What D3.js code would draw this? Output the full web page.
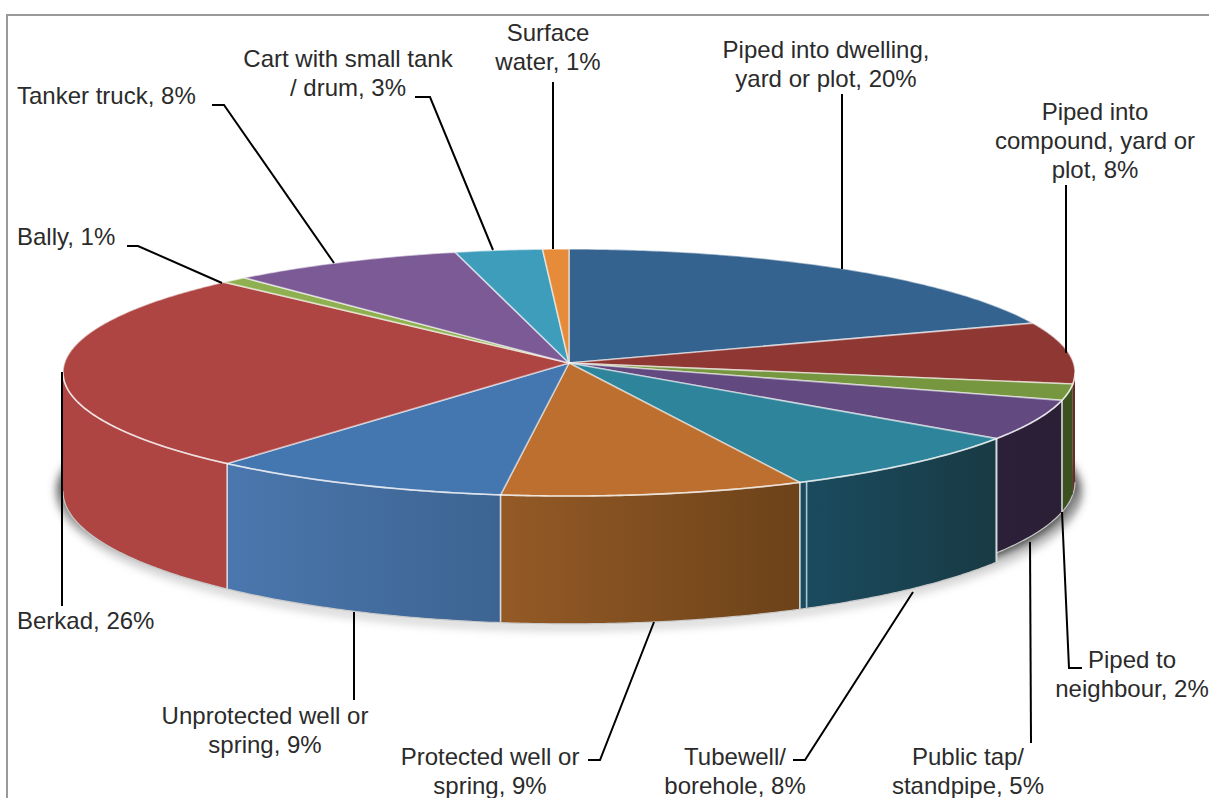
<!DOCTYPE html>
<html><head><meta charset="utf-8">
<script src="https://cdnjs.cloudflare.com/ajax/libs/d3/7.8.5/d3.min.js"></script>
<style>html,body{margin:0;padding:0;background:#fff;overflow:hidden}svg{display:block}text{font-family:"Liberation Sans",Arial,sans-serif;font-size:24px;fill:#2b2b2b}</style>
</head><body><svg id="c" width="1209" height="798"></svg>
<script>
const categories=["Piped into dwelling, yard or plot","Piped into compound, yard or plot","Piped to neighbour","Public tap/standpipe","Tubewell/borehole","Protected well or spring","Unprotected well or spring","Berkad","Bally","Tanker truck","Cart with small tank / drum","Surface water"];
const shares=[19.6,8.1,2.1,5.2,8,9,9,26.2,0.9,8,3,0.9];
const topColors=["#35638f","#8f3733","#76963f","#624a80","#2e849b","#bc6f2e","#4476b0","#ae4543","#8fb050","#7b5a96","#3f9dbc","#e58b3a"];
const wallStart=["#35638f","#6e2a27","#3d5020","#2c1f38","#1b4b60","#945a26","#4a77ae","#ae4543","#6d8a3a","#5c4370","#2e7a92","#b06a2a"];
const wallEnd=["#35638f","#6e2a27","#3d5020","#2b1f36","#183a44","#6c4219","#3d6491","#ae4543","#6d8a3a","#5c4370","#2e7a92","#b06a2a"];
const labelLines=[["Piped into dwelling,","yard or plot, 20%"],["Piped into","compound, yard or","plot, 8%"],["Piped to","neighbour, 2%"],["Public tap/","standpipe, 5%"],["Tubewell/","borehole, 8%"],["Protected well or","spring, 9%"],["Unprotected well or","spring, 9%"],["Berkad, 26%"],["Bally, 1%"],["Tanker truck, 8%"],["Cart with small tank","/ drum, 3%"],["Surface","water, 1%"]];
const labelAnchor=[[826,50],[1095,112],[1132,660],[968,757],[735,757],[490,757],[265,716],[17,621],[17,237],[17,96],[348,59],[548,33]];
const labelAlign=["middle","middle","middle","middle","middle","middle","middle","start","start","start","middle","middle"];
const leaders=[[[842,94],[842,269]],[[1066,185],[1066,353]],[[1082,668],[1069,668],[1062,512]],[[1031,743],[1030,542]],[[793,760],[805,760],[913,592]],[[588,760],[600,760],[654,622]],[[354,700],[354,612]],[[62,606],[62,372]],[[127,246],[138,246],[222,283]],[[212,105],[224,105],[334,263]],[[415,97],[430,97],[493,250]],[[553,82],[553,249]]];

const svg=d3.select("#c"),defs=svg.append("defs");
const cx=569,cy=363,K=0.0769,A=504.5,B=122.8,D=118;
const pts=d3.pie().sort(null).value(d=>d)(shares);
const proj=(t,r=1)=>{const X=r*Math.sin(t),Y=r*Math.cos(t),w=1+K*Y;return [cx+A*X/w,cy-B*Y/w];};
const depth=(t,f)=>D*f/(1+K*Math.cos(t));
const arcAngles=(a,b)=>{const n=Math.max(2,Math.ceil((b-a)/0.01));return d3.range(n+1).map(i=>a+(b-a)*i/n);};
const line=d3.line();
const tR=Math.PI/2+Math.asin(K),tL=2*Math.PI-tR;

// soft shadow under the disc
defs.append("filter").attr("id","blur").attr("x","-5%").attr("y","-10%").attr("width","110%").attr("height","120%")
  .append("feGaussianBlur").attr("stdDeviation",5);
svg.append("ellipse").attr("cx",cx).attr("cy",490).attr("rx",512).attr("ry",126).attr("fill","#555").attr("filter","url(#blur)");
svg.append("path").attr("d",line(arcAngles(tR,tL).map(t=>{const p=proj(t);return [p[0],p[1]+depth(t,1)+3];}))).attr("fill","none").attr("stroke","#bbb").attr("stroke-width",5).attr("filter","url(#blur)");

// frame
svg.append("path").attr("d",line([[7,798],[7,15],[1209,15]])).attr("fill","none").attr("stroke","#999").attr("stroke-width",2);

const shortWall=d=>d.index>=1&&d.index<=3?0.925:1;
const walls=svg.append("g"), tops=svg.append("g");
pts.forEach(d=>{
  const a=Math.max(d.startAngle,tR),b=Math.min(d.endAngle,tL);
  if(b<=a)return;
  const f=shortWall(d),as=arcAngles(a,b);
  const up=as.map(t=>proj(t)),dn=as.map(t=>{const p=proj(t);return [p[0],p[1]+depth(t,f)];}).reverse();
  const id="w"+d.index,g=defs.append("linearGradient").attr("id",id).attr("gradientUnits","userSpaceOnUse")
    .attr("x1",up[up.length-1][0]).attr("x2",up[0][0]).attr("y1",0).attr("y2",0);
  g.append("stop").attr("offset",0).attr("stop-color",wallStart[d.index]);
  g.append("stop").attr("offset",1).attr("stop-color",wallEnd[d.index]);
  walls.append("path").attr("d",line(up.concat(dn))+"Z").attr("fill",`url(#${id})`).attr("stroke","none");
  // bottom rim
  walls.append("path").attr("d",line(dn)).attr("fill","none").attr("stroke","#c9c9c9").attr("stroke-width",1.2);
});
// vertical wall seams
pts.forEach(d=>{
  const t=d.startAngle;
  if(t<tR||t>tL||d.index===2||d.index===1)return;
  const p=proj(t);
  walls.append("path").attr("d",line([p,[p[0],p[1]+depth(t,d.index<=3?0.925:1)]])).attr("stroke","#d6dadd").attr("stroke-width",1.6).attr("fill","none");
});
// edge of the tubewell slice
{const t=pts[4].endAngle-0;const s=pts[5].startAngle-0.014,p=proj(s);
 walls.append("path").attr("d",line([p,[p[0],p[1]+depth(s,1)]])).attr("stroke","#a9c4cc").attr("stroke-width",1.6).attr("fill","none");}
{const t=pts[3].endAngle,p=proj(t);
 walls.append("path").attr("d",line([p,[p[0],p[1]+depth(t,1)]])).attr("stroke","#cfdadd").attr("stroke-width",1.6).attr("fill","none");}
pts.forEach(d=>{
  const as=arcAngles(d.startAngle,d.endAngle).map(t=>proj(t));
  tops.append("path").attr("d",line([[cx,cy]].concat(as))+"Z").attr("fill",topColors[d.index])
    .attr("stroke","#fff").attr("stroke-opacity",.55).attr("stroke-width",1.6).attr("stroke-linejoin","round");
});
// light front rim
svg.append("path").attr("d",line(arcAngles(tR,tL).map(t=>proj(t)))).attr("fill","none").attr("stroke","#fff").attr("stroke-opacity",.6).attr("stroke-width",1.6);

// leaders
svg.append("g").selectAll("path").data(leaders).join("path").attr("d",d=>line(d)).attr("fill","none").attr("stroke","#000").attr("stroke-width",2);
// labels
const lab=svg.append("g");
labelLines.forEach((ls,i)=>{
  ls.forEach((s,j)=>lab.append("text").attr("x",labelAnchor[i][0]).attr("y",labelAnchor[i][1]+j*29).attr("dy","0.35em").attr("text-anchor",labelAlign[i]).text(s));
});
</script></body></html>
